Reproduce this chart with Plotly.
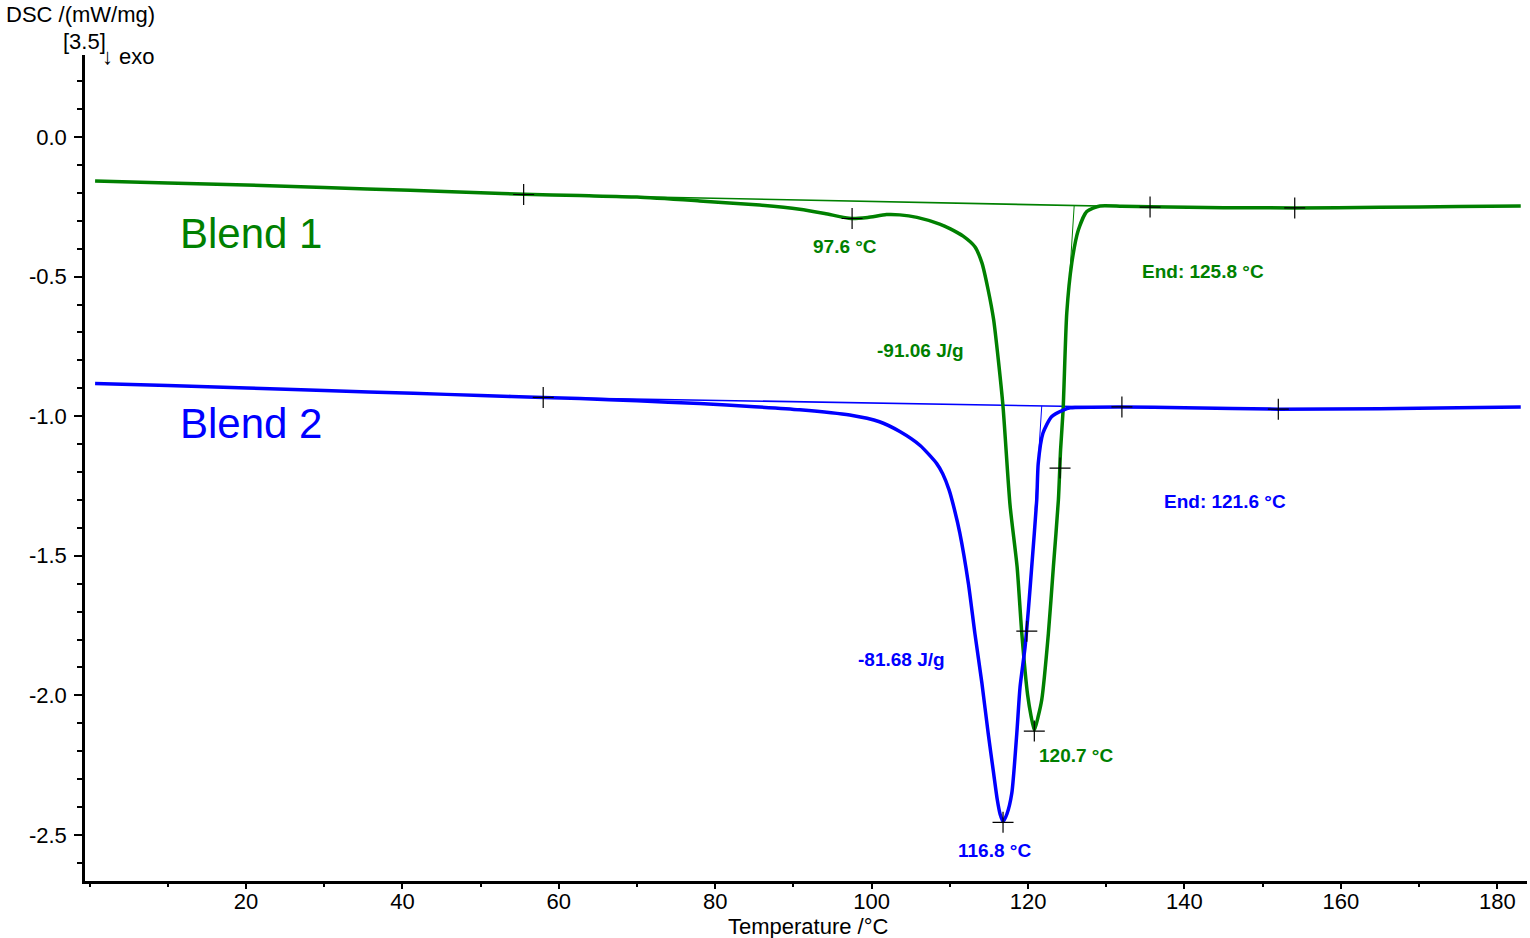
import plotly.graph_objects as go

# ---------------- data ----------------
blend1_T = [0.7, 10, 20, 30, 41, 50, 55.5, 62.7, 70, 78, 85.7, 90.8, 94, 97.4, 99.5, 101.9,
            103.6, 105.8, 108.7, 110, 111.7, 113.2, 114.1, 114.9, 115.6, 116.2, 116.8, 117.7,
            118.6, 119.2, 119.95, 120.39, 120.8, 121.3, 121.75, 122.6, 123.24, 123.88, 124.16,
            124.48, 124.95, 125.59, 126.43, 127.51, 129.2, 132, 135.6, 145, 154.1, 165, 175, 183]
blend1_v = [-0.158, -0.165, -0.172, -0.181, -0.191, -0.200, -0.205, -0.210, -0.215, -0.229,
            -0.244, -0.259, -0.274, -0.292, -0.288, -0.278, -0.279, -0.288, -0.312, -0.328,
            -0.355, -0.393, -0.451, -0.548, -0.655, -0.799, -0.966, -1.32, -1.54, -1.778,
            -2.0, -2.075, -2.125, -2.075, -2.016, -1.778, -1.539, -1.30, -1.12,
            -0.978, -0.63, -0.451, -0.333, -0.267, -0.247, -0.248, -0.250, -0.253, -0.254,
            -0.252, -0.249, -0.247]

blend2_T = [0.7, 10, 20.1, 30, 41.4, 50, 58, 62.7, 70, 78, 85, 90.8, 97.2, 101, 103.6, 106.2,
            108.3, 109.1, 109.9, 110.6, 111.27, 112.37, 113.2, 114.1, 114.9, 115.6, 116.07,
            116.42, 116.8, 117.3, 117.92, 118.56, 118.98, 119.62, 120.04, 120.47, 121.11, 121.3,
            121.9, 123.0, 124.5, 125.4, 132, 140, 152, 165, 175, 183]
blend2_v = [-0.883, -0.890, -0.899, -0.908, -0.918, -0.926, -0.933, -0.937, -0.945, -0.955,
            -0.966, -0.977, -0.996, -1.02, -1.055, -1.105, -1.169, -1.207, -1.264, -1.336,
            -1.418, -1.599, -1.778, -1.957, -2.136, -2.28, -2.375, -2.425, -2.452, -2.425,
            -2.351, -2.136, -1.969, -1.826, -1.694, -1.539, -1.30, -1.169, -1.061, -1.002,
            -0.978, -0.970, -0.967, -0.970, -0.975, -0.973, -0.970, -0.967]

blend1_base_T = [55.5, 135.6]
blend1_base_v = [-0.206, -0.251]
blend2_base_T = [58, 132]
blend2_base_v = [-0.933, -0.968]
blend1_tan_T = [125.9, 125.2]
blend1_tan_v = [-0.246, -0.55]
blend2_tan_T = [121.75, 120.9]
blend2_tan_v = [-0.963, -1.336]

blend1_mark_T = [55.5, 97.5, 120.8, 124.09, 135.6, 154.1]
blend1_mark_v = [-0.206, -0.292, -2.128, -1.186, -0.251, -0.254]
blend2_mark_T = [58, 116.8, 119.84, 132, 152]
blend2_mark_v = [-0.933, -2.455, -1.77, -0.967, -0.975]

x_tickvals = [20, 40, 60, 80, 100, 120, 140, 160, 180]
x_ticktext = ["20", "40", "60", "80", "100", "120", "140", "160", "180"]
y_tickvals = [0.0, -0.5, -1.0, -1.5, -2.0, -2.5]
y_ticktext = ["0.0", "-0.5", "-1.0", "-1.5", "-2.0", "-2.5"]

GREEN = "#008000"
BLUE = "#0000FF"
FONT = "Liberation Sans, Arial, sans-serif"

W, H = 1530, 938
L, R, T, B = 85, 3, 55, 57
pw, ph = W - L - R, H - T - B


def px_x(p):
    return (p - L) / pw


def px_y(p):
    return (H - B - p) / ph


fig = go.Figure()
fig.add_trace(go.Scatter(x=blend1_base_T, y=blend1_base_v, mode="lines",
                         line=dict(color=GREEN, width=1.6), showlegend=False))
fig.add_trace(go.Scatter(x=blend2_base_T, y=blend2_base_v, mode="lines",
                         line=dict(color=BLUE, width=1.6), showlegend=False))
fig.add_trace(go.Scatter(x=blend1_tan_T, y=blend1_tan_v, mode="lines",
                         line=dict(color=GREEN, width=1), showlegend=False))
fig.add_trace(go.Scatter(x=blend2_tan_T, y=blend2_tan_v, mode="lines",
                         line=dict(color=BLUE, width=1), showlegend=False))
fig.add_trace(go.Scatter(x=blend1_T, y=blend1_v, mode="lines", name="Blend 1",
                         line=dict(color=GREEN, width=3.5, shape="spline", smoothing=0.6),
                         showlegend=False))
fig.add_trace(go.Scatter(x=blend2_T, y=blend2_v, mode="lines", name="Blend 2",
                         line=dict(color=BLUE, width=3.5, shape="spline", smoothing=0.6),
                         showlegend=False))
for mt, mv in ((blend1_mark_T, blend1_mark_v), (blend2_mark_T, blend2_mark_v)):
    fig.add_trace(go.Scatter(x=mt, y=mv, mode="markers", showlegend=False,
                             marker=dict(symbol="cross-thin", size=15, color="black",
                                         line=dict(width=1.2, color="black"))))

annos = [
    ("Blend 1", 11.3, -0.347, GREEN, 42, False, "left"),
    ("Blend 2", 11.3, -1.028, BLUE, 42, False, "left"),
    ("97.6 °C", 96.6, -0.394, GREEN, 19, True, "center"),
    ("End: 125.8 °C", 142.4, -0.4835, GREEN, 19, True, "center"),
    ("-91.06 J/g", 106.2, -0.7665, GREEN, 19, True, "center"),
    ("120.7 °C", 126.15, -2.217, GREEN, 19, True, "center"),
    ("End: 121.6 °C", 145.2, -1.307, BLUE, 19, True, "center"),
    ("-81.68 J/g", 103.76, -1.873, BLUE, 19, True, "center"),
    ("116.8 °C", 115.65, -2.557, BLUE, 19, True, "center"),
]
for txt, ax, ay, col, sz, bold, anc in annos:
    fig.add_annotation(x=ax, y=ay, xref="x", yref="y", text=f"<b>{txt}</b>" if bold else txt,
                       showarrow=False, xanchor=anc, yanchor="middle",
                       font=dict(family=FONT, size=sz, color=col))

for txt, x0, y0, anc in [("DSC /(mW/mg)", 4, 15, "left"), ("[3.5]", 61, 42, "left"),
                         ("↓ exo", 100, 56, "left"), ("Temperature /°C", 808, 926, "center")]:
    fig.add_annotation(x=px_x(x0), y=px_y(y0), xref="paper", yref="paper", text=txt,
                       showarrow=False, xanchor=anc, yanchor="middle",
                       font=dict(family=FONT, size=22, color="black"))

fig.update_layout(
    width=W, height=H, margin=dict(l=L, r=R, t=T, b=B),
    paper_bgcolor="white", plot_bgcolor="white",
    font=dict(family=FONT, size=22, color="black"),
    xaxis=dict(range=[-0.59, 183.8], showgrid=False, zeroline=False, showline=True,
               linecolor="black", linewidth=2.5, ticks="outside", ticklen=5, tickwidth=2,
               tickcolor="black", tickvals=x_tickvals, ticktext=x_ticktext,
               ticklabelstandoff=-6,
               minor=dict(dtick=10, tick0=0, ticks="outside", ticklen=3, tickwidth=2,
                          tickcolor="black", showgrid=False)),
    yaxis=dict(range=[-2.665, 0.2937], showgrid=False, zeroline=False, showline=True,
               linecolor="black", linewidth=2.5, ticks="outside", ticklen=8, tickwidth=2,
               tickcolor="black", tickvals=y_tickvals, ticktext=y_ticktext,
               ticklabelstandoff=3,
               minor=dict(dtick=0.1, tick0=0, ticks="outside", ticklen=5, tickwidth=2,
                          tickcolor="black", showgrid=False)),
)

fig.write_html("out.html")
